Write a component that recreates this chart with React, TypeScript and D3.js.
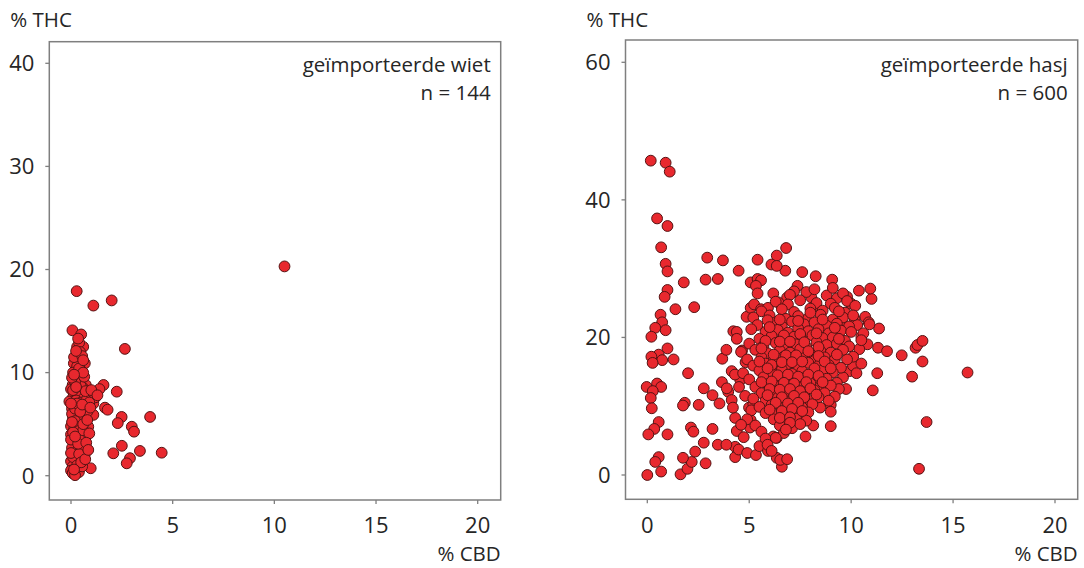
import * as d3 from "d3";

// % CBD, % THC per sample
const wietPoints: [number, number][] = [
  [10.5, 20.3], [0.28, 17.9], [1.1, 16.5], [2.0, 17.0], [2.65, 12.3], [0.07, 14.1], [0.5, 13.7],
  [2.25, 8.15], [1.6, 8.8], [1.4, 8.4], [1.67, 6.6], [1.8, 6.4], [3.89, 5.7], [2.49, 5.7], [2.3, 5.1],
  [2.99, 4.75], [3.1, 4.27], [4.46, 2.23], [3.39, 2.4], [2.08, 2.17], [2.5, 2.9], [2.9, 1.7], [2.74, 1.2],
  [0.97, 0.72], [0.85, 4.75], [1.1, 5.9], [1.1, 7.0], [0.97, 7.9], [1.2, 7.6],
  [0.3, 12.5], [0.6, 12.5], [0.4, 12.9], [0.45, 12.0], [0.35, 11.4], [0.14, 10.9], [0.68, 10.9], [0.3, 10.6],
  [0.5, 10.2], [0.1, 10.0], [0.4, 9.7], [0.25, 9.4], [0.55, 9.2], [0.08, 8.8], [0.35, 9.0], [0.73, 8.8],
  [0.0, 8.4], [0.3, 8.25], [0.6, 8.5], [0.18, 8.0], [0.45, 7.9], [0.85, 7.9], [0.1, 7.6], [0.35, 7.7],
  [0.62, 7.5], [-0.08, 7.2], [0.25, 7.3], [0.5, 7.1], [0.75, 7.3], [0.15, 6.9], [0.4, 6.8], [0.7, 6.7],
  [0.05, 6.5], [0.3, 6.4], [0.55, 6.3], [0.2, 6.0], [0.39, 5.8], [0.65, 5.9], [0.1, 5.6], [0.3, 5.4],
  [0.55, 5.3], [0.2, 5.0], [0.0, 4.8], [0.45, 4.9], [0.15, 4.5], [0.35, 4.3], [0.0, 4.0], [0.25, 4.0],
  [0.68, 3.5], [0.12, 3.3], [0.4, 3.6], [0.2, 3.0], [0.6, 2.9], [0.05, 2.7], [0.3, 2.4], [0.68, 2.1],
  [0.15, 2.0], [0.42, 1.6], [0.0, 1.4], [0.25, 1.2], [0.08, 0.9], [0.35, 0.8], [0.0, 0.5], [0.39, 0.35],
  [0.08, 0.25], [0.2, 0.05], [0.1, 1.8], [0.5, 2.5], [0.28, 4.6], [0.5, 5.6], [0.8, 6.2], [0.9, 7.1],
  [0.48, 8.7], [0.2, 9.1], [0.65, 9.6], [0.05, 9.5], [0.15, 11.5], [0.55, 11.6], [0.25, 12.1], [0.05, 6.0],
  [0.6, 4.4], [0.0, 3.5], [0.3, 1.0], [0.55, 0.9], [0.0, 2.2], [0.4, 2.1], [0.2, 6.5], [0.1, 8.3],
  [0.72, 8.2], [0.3, 7.0], [0.0, 7.0], [0.45, 6.2], [0.2, 5.3], [0.6, 5.0], [0.1, 4.2], [0.35, 3.1],
  [0.5, 1.3], [0.15, 0.6], [0.55, 6.9], [0.25, 8.6], [0.4, 10.4], [0.6, 10.0], [0.15, 9.8],
  [0.8, 5.4], [0.9, 4.1], [0.75, 3.2], [0.7, 1.6], [0.35, 13.3], [0.6, 11.2], [1.0, 8.3], [1.3, 7.8],
  [0.95, 6.6], [0.85, 2.5], [0.2, 3.8], [0.05, 5.2],
];

const hasjOuter: [number, number][] = [
  [0.17, 45.7], [0.9, 45.4], [1.1, 44.1], [0.48, 37.3], [0.99, 36.2], [0.68, 33.1], [0.9, 30.7],
  [0.99, 29.6], [0.99, 26.9], [0.85, 25.9], [1.38, 24.1], [1.79, 28.0], [2.3, 24.4], [0.65, 23.3],
  [0.73, 22.2], [0.39, 21.4], [0.9, 21.05], [0.2, 20.1], [0.99, 18.4], [0.56, 17.5], [0.2, 17.2],
  [0.73, 16.7], [1.29, 16.8], [0.26, 16.3], [-0.03, 12.8], [0.48, 13.3], [0.68, 12.8], [0.27, 12.2],
  [0.17, 11.2], [0.22, 9.7], [0.56, 7.7], [0.34, 6.7], [0.05, 5.9], [0.99, 5.9], [0.56, 2.6],
  [0.39, 1.9], [0.68, 0.5], [0.0, 0.0], [1.63, 0.1], [1.97, 0.9], [2.18, 1.9], [1.75, 2.5],
  [1.84, 10.5], [1.75, 10.1], [2.0, 14.8], [2.14, 6.9], [2.26, 6.3], [2.35, 3.4], [2.52, 10.2],
  [2.77, 12.6], [2.94, 31.6], [3.71, 31.2], [2.86, 28.4], [3.46, 28.5], [4.48, 29.7], [3.2, 6.7],
  [2.86, 1.7], [2.77, 4.7], [3.46, 4.4], [3.2, 11.6], [3.54, 10.4], [3.68, 16.9], [3.88, 18.2],
  [3.66, 13.5], [3.97, 12.1], [4.14, 10.9], [4.22, 20.9], [4.39, 20.8], [4.14, 15.1], [4.39, 19.8],
  [4.31, 8.3], [4.39, 6.4], [4.31, 4.1], [4.31, 2.6], [4.48, 3.7], [3.88, 4.4], [4.73, 5.5],
  [4.65, 18.1], [4.56, 13.8], [4.82, 16.4], [4.87, 23.0], [5.07, 24.3], [5.07, 28.0], [5.41, 31.3],
  [4.99, 9.8], [5.07, 8.0], [5.04, 6.9], [4.9, 3.2], [5.33, 2.9], [5.5, 4.2], [5.92, 3.5],
  [6.18, 5.6], [6.35, 2.5], [6.6, 1.2], [6.52, 2.2], [6.86, 2.3], [6.35, 5.4], [7.76, 5.6],
  [8.14, 7.2], [9.0, 7.1], [8.48, 9.8], [9.0, 10.2], [9.75, 12.5], [9.92, 15.1], [10.09, 15.9],
  [10.26, 14.8], [10.5, 16.2], [11.06, 12.3], [11.28, 14.8], [11.32, 18.5], [11.76, 18.0],
  [12.48, 17.4], [12.99, 14.3], [13.16, 18.5], [13.25, 18.9], [13.5, 19.5], [13.5, 16.5],
  [13.7, 7.7], [13.33, 0.9], [15.71, 14.9], [11.0, 25.6], [10.94, 27.1], [10.38, 26.8],
  [10.69, 23.0], [10.86, 22.2], [11.37, 21.3], [10.5, 20.1], [10.17, 22.7], [9.07, 28.4],
  [8.26, 28.9], [7.6, 29.5], [6.77, 29.7], [6.81, 33.0], [6.35, 31.9], [6.09, 30.6], [6.35, 30.4],
  [7.37, 27.5], [7.2, 26.7], [6.86, 25.8], [8.05, 25.8], [8.22, 24.6], [5.41, 28.5], [5.58, 28.3],
  [5.33, 27.5], [5.41, 26.4], [6.18, 26.4], [5.24, 24.8], [5.58, 24.1], [5.92, 24.3], [6.43, 25.1],
  [4.5, 12.8], [4.8, 11.5], [4.3, 14.6], [5.2, 10.3], [5.1, 9.4], [4.9, 8.1], [5.3, 7.2], [5.6, 6.3],
  [5.8, 5.3], [5.9, 4.4], [6.1, 3.5], [4.6, 7.3], [4.2, 9.8], [3.9, 12.6],
  [9.8, 25.9], [10.0, 24.9], [9.5, 22.3], [10.3, 21.8], [10.6, 20.6], [10.8, 19.0], [10.4, 18.3],
  [10.1, 17.2], [9.8, 16.8], [9.6, 14.2], [9.3, 13.4], [9.4, 12.5], [9.2, 11.4], [10.5, 19.6], [10.9, 21.9],
];

const hasjCore: [number, number][] = [
  [7.0, 26.2], [7.8, 26.6], [8.8, 26.1], [9.3, 25.7], [9.6, 26.4], [8.2, 27.0], [9.1, 27.2],
  [6.3, 25.2], [6.9, 24.8], [7.5, 25.4], [8.3, 25.0], [9.0, 24.9], [9.8, 25.3], [10.2, 24.6],
  [5.6, 23.8], [6.6, 24.1], [7.2, 23.7], [8.0, 24.2], [8.6, 23.9], [9.2, 24.3], [9.7, 23.6],
  [5.2, 22.9], [6.0, 23.2], [6.8, 22.7], [7.4, 23.1], [7.9, 22.8], [8.5, 23.3], [9.1, 22.6], [9.6, 22.9], [10.1, 23.2],
  [5.4, 21.8], [6.2, 22.1], [6.6, 21.6], [7.1, 22.3], [7.7, 21.9], [8.2, 22.2], [8.8, 21.7], [9.3, 22.0], [9.9, 21.6],
  [5.1, 21.2], [5.8, 20.8], [6.4, 21.1], [6.9, 20.7], [7.4, 21.3], [7.9, 20.9], [8.4, 21.2], [8.9, 20.6], [9.5, 21.0], [10.0, 20.8],
  [5.5, 19.8], [6.1, 20.2], [6.6, 19.7], [7.2, 20.1], [7.6, 19.6], [8.1, 20.3], [8.6, 19.9], [9.1, 20.0], [9.7, 19.5],
  [5.0, 19.1], [5.7, 18.8], [6.3, 19.2], [6.8, 18.7], [7.3, 19.0], [7.8, 18.6], [8.3, 19.3], [8.8, 18.9], [9.3, 19.1], [9.9, 18.7],
  [4.6, 17.9], [5.3, 18.2], [5.9, 17.7], [6.5, 18.1], [7.0, 17.8], [7.5, 18.3], [8.0, 17.6], [8.5, 18.0], [9.0, 17.8], [9.6, 18.2],
  [4.9, 16.8], [5.6, 17.1], [6.2, 16.7], [6.7, 17.2], [7.2, 16.9], [7.7, 17.0], [8.2, 16.6], [8.7, 17.1], [9.2, 16.8],
  [5.2, 15.9], [5.8, 16.2], [6.4, 15.7], [6.9, 16.1], [7.4, 15.8], [7.9, 16.3], [8.4, 15.9], [8.9, 16.0], [9.5, 15.6],
  [4.7, 14.8], [5.5, 15.2], [6.1, 14.9], [6.6, 15.3], [7.1, 14.7], [7.6, 15.1], [8.1, 14.8], [8.6, 15.2], [9.1, 14.9],
  [5.0, 13.9], [5.7, 14.2], [6.3, 13.8], [6.8, 14.1], [7.3, 13.7], [7.8, 14.3], [8.3, 13.9], [8.8, 14.0],
  [5.3, 12.8], [5.9, 13.2], [6.5, 12.9], [7.0, 13.1], [7.5, 12.7], [8.0, 13.3], [8.5, 12.9], [9.0, 13.0],
  [5.6, 11.9], [6.2, 12.2], [6.7, 11.7], [7.2, 12.1], [7.7, 11.8], [8.2, 12.3], [8.7, 11.9],
  [5.2, 11.1], [5.8, 10.8], [6.4, 11.2], [6.9, 10.7], [7.4, 11.0], [7.9, 10.9], [8.4, 11.3],
  [5.5, 9.9], [6.1, 10.2], [6.6, 9.7], [7.1, 10.1], [7.6, 9.8], [8.1, 10.3],
  [5.8, 9.0], [6.4, 8.8], [6.9, 9.2], [7.4, 8.7], [7.9, 9.1],
  [6.2, 8.1], [6.8, 7.8], [7.3, 8.2], [7.8, 7.9], [6.5, 7.2], [7.1, 6.8], [7.5, 7.4], [6.7, 6.1], [6.3, 5.4],
  [5.9, 22.5], [6.5, 22.6], [7.4, 22.4], [8.0, 23.6], [8.6, 22.6], [9.4, 23.8], [6.0, 21.5], [6.7, 20.3],
  [7.5, 20.5], [8.3, 20.6], [9.2, 21.4], [5.8, 19.5], [6.5, 19.4], [7.0, 19.4], [7.7, 19.3], [8.4, 18.6],
  [9.4, 19.8], [5.6, 18.4], [6.2, 17.5], [6.8, 17.4], [7.3, 17.4], [7.9, 18.0], [8.4, 17.3], [9.3, 17.5],
  [5.5, 16.5], [6.1, 16.0], [6.6, 16.4], [7.1, 16.4], [7.6, 16.5], [8.2, 15.5], [8.7, 16.5], [5.9, 15.5],
  [6.4, 14.5], [6.9, 14.6], [7.4, 14.3], [7.9, 14.6], [8.4, 14.4], [9.0, 15.5], [5.6, 13.5], [6.1, 13.6],
  [6.7, 13.4], [7.2, 13.3], [7.8, 13.5], [8.6, 13.5], [6.0, 12.5], [6.5, 12.4], [7.0, 12.5], [7.5, 12.2],
  [8.0, 12.6], [5.9, 11.6], [6.6, 11.3], [7.2, 11.5], [7.7, 11.3], [8.3, 11.7], [6.3, 10.5], [6.9, 10.4],
  [7.4, 10.5], [6.0, 9.5], [6.6, 9.3], [7.1, 9.6], [7.6, 9.3], [6.5, 8.3], [7.0, 8.4], [7.0, 7.6],
  [6.8, 6.6], [9.0, 9.2], [8.9, 10.8],
];

const xTicks = [0, 5, 10, 15, 20];
const wietYTicks = [0, 10, 20, 30, 40];
const hasjYTicks = [0, 20, 40, 60];

const FONT = "'Open Sans', sans-serif";
const TEXT = "#262626";
const FRAME = "#7f7f7f";

type PanelProps = {
  points: [number, number][];
  yTicks: number[];
  yMax: number;
  box: { left: number; right: number; top: number; bottom: number };
  xRange: [number, number];
  yRange: [number, number];
  title: string;
  count: string;
};

function Panel({ points, yTicks, yMax, box, xRange, yRange, title, count }: PanelProps) {
  const x = d3.scaleLinear().domain([0, 20]).range(xRange);
  const y = d3.scaleLinear().domain([0, yMax]).range(yRange);

  return (
    <g fontFamily={FONT} fill={TEXT}>
      <rect
        x={box.left}
        y={box.top}
        width={box.right - box.left}
        height={box.bottom - box.top}
        fill="white"
        stroke={FRAME}
        strokeWidth={1.5}
      />
      {yTicks.map((t) => (
        <g key={"y" + t}>
          <line x1={box.left - 4} x2={box.left} y1={y(t)} y2={y(t)} stroke={FRAME} strokeWidth={1.3} />
          <text x={box.left - 15} y={y(t) + 7.8} textAnchor="end" fontSize={22}>
            {t}
          </text>
        </g>
      ))}
      {xTicks.map((t) => (
        <g key={"x" + t}>
          <line x1={x(t)} x2={x(t)} y1={box.bottom} y2={box.bottom + 4} stroke={FRAME} strokeWidth={1.3} />
          <text x={x(t)} y={533} textAnchor="middle" fontSize={22}>
            {t}
          </text>
        </g>
      ))}
      <text x={box.left - 39} y={27} fontSize={20.5}>% THC</text>
      <text x={box.right} y={561} textAnchor="end" fontSize={20.5}>% CBD</text>
      <text x={box.right - 10} y={71.5} textAnchor="end" fontSize={20.5}>{title}</text>
      <text x={box.right - 10} y={100} textAnchor="end" fontSize={20.5}>{count}</text>
      <g>
        {points.map(([cx, cy], i) => (
          <circle key={i} cx={x(cx)} cy={y(cy)} r={5.4} fill="#e8282e" stroke="#551313" strokeWidth={1} />
        ))}
      </g>
    </g>
  );
}

export default function App() {
  return (
    <svg
      width={1084}
      height={568}
      style={{ position: "absolute", left: 0, top: 0, background: "white" }}
    >
      <rect width={1084} height={568} fill="white" />
      <Panel
        points={wietPoints}
        yTicks={wietYTicks}
        yMax={40}
        box={{ left: 49.3, right: 500.7, top: 41.7, bottom: 500 }}
        xRange={[71, 477.7]}
        yRange={[475.7, 63.3]}
        title="geïmporteerde wiet"
        count="n = 144"
      />
      <Panel
        points={[...hasjOuter, ...hasjCore]}
        yTicks={hasjYTicks}
        yMax={60}
        box={{ left: 625.5, right: 1077.7, top: 40, bottom: 499.3 }}
        xRange={[647.3, 1055]}
        yRange={[475, 62.3]}
        title="geïmporteerde hasj"
        count="n = 600"
      />
    </svg>
  );
}
